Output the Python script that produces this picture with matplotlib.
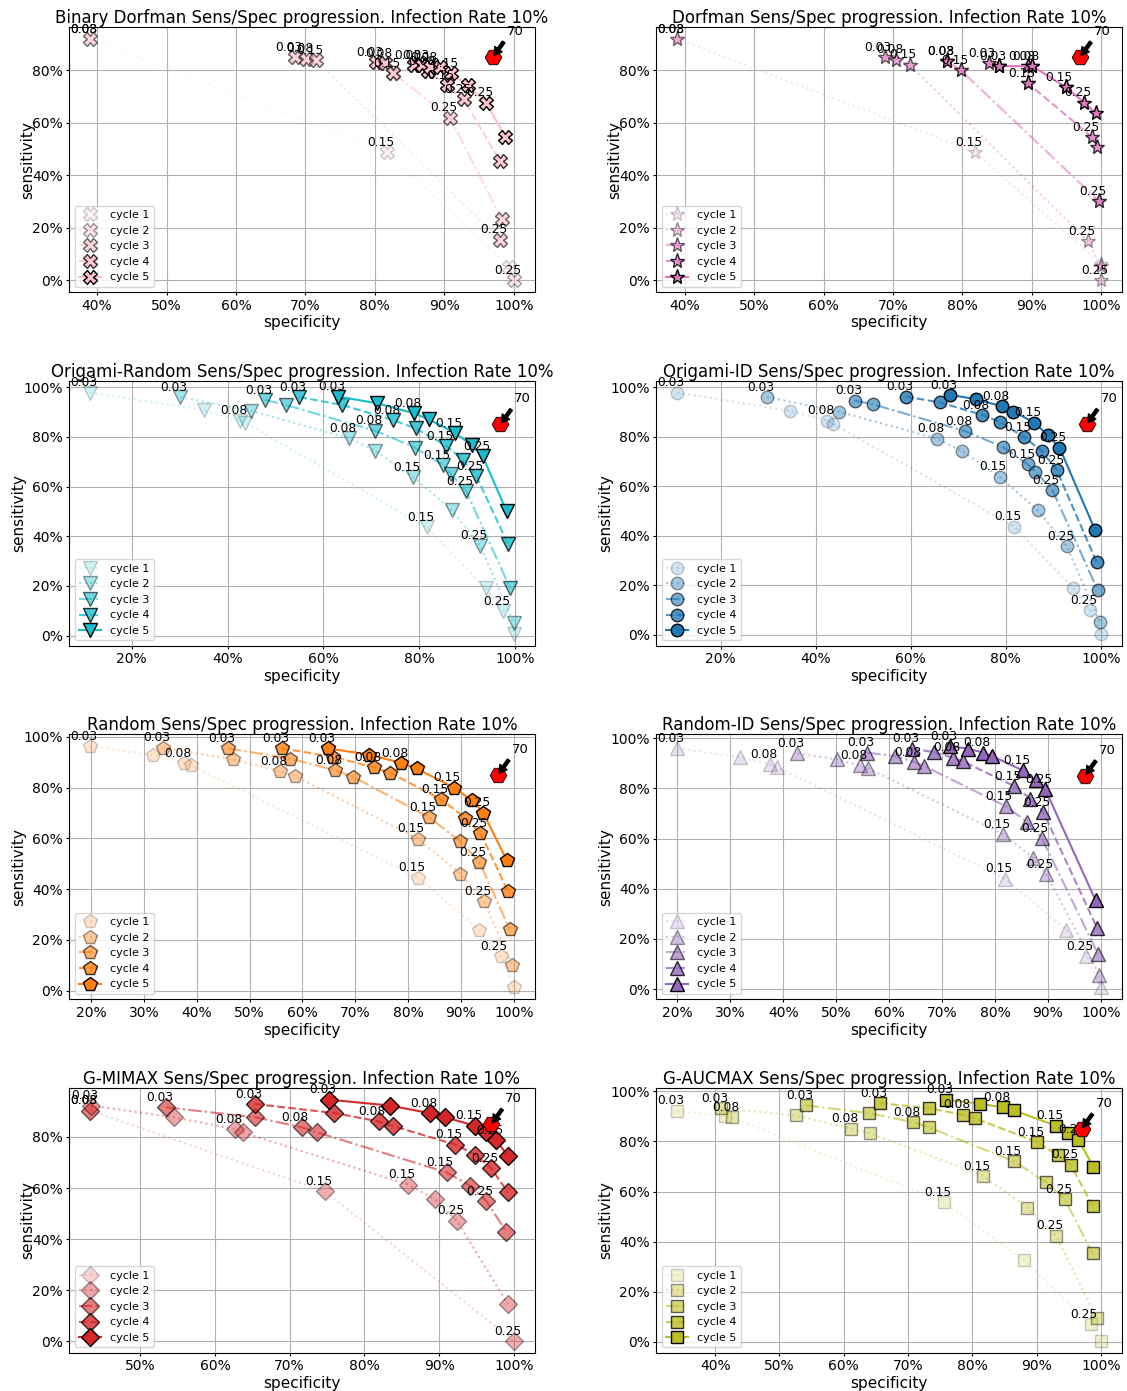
import matplotlib
matplotlib.use('Agg')
import matplotlib.pyplot as plt
from matplotlib.ticker import PercentFormatter

# ---------------- data (percent) ----------------
THRESHOLDS = ['0.03', '0.05', '0.08', '0.1', '0.15', '0.2', '0.25', '0.3']
LABELED = ['0.03', '0.08', '0.15', '0.25']
CYCLES = ['cycle 1', 'cycle 2', 'cycle 3', 'cycle 4', 'cycle 5']

# Binary Dorfman
BD_X = [[39.0, 39.0, 39.0, 39.0, 81.8, 99.3, 100.0, 100.0],
        [68.5, 68.5, 70.1, 70.1, 71.5, 71.5, 98.0, 98.0],
        [80.2, 80.2, 81.5, 81.5, 82.6, 82.6, 90.8, 98.3],
        [85.6, 85.6, 87.7, 87.7, 90.4, 90.4, 92.8, 98.0],
        [86.8, 86.8, 88.0, 89.4, 91.0, 93.4, 96.0, 98.8]]
BD_Y = [[91.8, 91.8, 91.8, 91.8, 48.9, 5.1, 0.0, 0.0],
        [85.0, 85.0, 84.4, 84.4, 83.8, 83.8, 15.5, 15.5],
        [83.1, 83.1, 82.7, 82.7, 78.9, 78.9, 61.9, 23.2],
        [81.9, 81.9, 79.6, 79.6, 74.2, 74.2, 68.9, 45.4],
        [81.9, 81.9, 81.2, 81.2, 78.7, 74.2, 67.6, 54.6]]

# Dorfman
DO_X = [[38.9, 38.9, 38.9, 38.9, 81.8, 100.0, 100.0, 100.0],
        [68.8, 68.8, 70.5, 70.5, 72.4, 72.4, 98.1, 100.0],
        [77.8, 77.8, 77.8, 77.8, 79.8, 79.8, 99.7, 99.7],
        [83.8, 85.3, 89.5, 89.5, 89.5, 89.5, 98.7, 99.5],
        [85.3, 85.3, 90.1, 90.1, 94.9, 94.9, 97.6, 99.3]]
DO_Y = [[91.8, 91.8, 91.8, 91.8, 48.9, 6.3, 0.0, 0.0],
        [85.0, 85.0, 84.0, 84.0, 82.1, 82.1, 15.0, 5.5],
        [83.4, 83.4, 83.4, 83.4, 79.9, 79.9, 30.2, 30.2],
        [82.5, 81.5, 81.5, 81.5, 74.9, 74.9, 54.6, 50.8],
        [81.5, 81.5, 81.5, 81.5, 73.6, 73.6, 67.6, 63.5]]

# Origami-Random
OR_X = [[11.3, 35.0, 42.6, 43.7, 81.6, 93.9, 97.6, 99.8],
        [30.1, 45.0, 65.4, 70.8, 78.8, 86.8, 92.8, 99.8],
        [47.8, 52.2, 70.8, 79.1, 85.0, 86.6, 89.9, 99.0],
        [55.0, 64.0, 74.5, 79.3, 85.7, 89.2, 92.0, 98.6],
        [63.1, 71.3, 78.9, 82.1, 87.5, 91.0, 93.3, 98.3]]
OR_Y = [[97.8, 90.8, 86.5, 85.7, 43.6, 19.0, 9.9, 0.7],
        [96.0, 90.4, 79.4, 74.4, 63.8, 50.6, 36.2, 5.1],
        [94.9, 92.8, 82.5, 75.7, 68.6, 65.2, 58.0, 19.3],
        [96.0, 92.8, 86.8, 83.4, 76.4, 70.6, 64.2, 36.8],
        [96.2, 93.5, 89.5, 87.0, 81.6, 76.7, 72.2, 50.1]]

# Origami-ID
OI_X = [[10.9, 34.6, 42.4, 43.6, 81.8, 94.1, 97.7, 100.0],
        [29.8, 44.9, 65.5, 70.8, 78.7, 86.7, 92.8, 99.8],
        [48.2, 52.0, 71.5, 79.5, 84.6, 86.2, 89.8, 99.3],
        [59.0, 66.2, 75.0, 78.7, 83.9, 87.6, 90.7, 99.1],
        [68.3, 73.8, 79.3, 81.6, 86.0, 88.8, 91.3, 98.8]]
OI_Y = [[97.8, 90.4, 86.5, 85.3, 43.6, 19.0, 9.9, 0.3],
        [96.0, 90.1, 79.2, 74.2, 63.8, 50.3, 35.8, 5.1],
        [94.6, 93.1, 82.2, 75.7, 68.8, 65.9, 58.4, 18.2],
        [96.2, 93.8, 88.8, 86.0, 79.8, 74.1, 66.5, 29.4],
        [96.9, 95.1, 92.2, 90.1, 85.7, 80.6, 75.6, 42.2]]

# Random
RA_X = [[19.8, 31.7, 37.6, 38.8, 81.9, 93.5, 97.5, 100.0],
        [33.6, 46.8, 55.7, 58.6, 81.8, 89.9, 94.3, 99.7],
        [45.9, 57.6, 66.2, 69.6, 83.9, 89.8, 93.5, 99.2],
        [56.1, 65.8, 73.5, 76.6, 86.3, 90.7, 93.7, 98.9],
        [64.8, 72.5, 78.7, 81.6, 88.6, 92.1, 94.2, 98.7]]
RA_Y = [[96.3, 92.8, 89.7, 88.8, 44.5, 23.9, 13.6, 1.3],
        [95.7, 91.1, 86.4, 84.5, 59.9, 46.1, 35.3, 10.3],
        [95.4, 91.4, 86.8, 84.2, 68.4, 58.9, 50.7, 24.3],
        [95.4, 92.1, 87.9, 85.8, 75.3, 68.2, 62.1, 39.2],
        [95.4, 93.0, 89.7, 87.5, 80.0, 75.0, 70.1, 51.3]]

# Random-ID
RI_X = [[20.0, 31.8, 37.6, 38.8, 81.9, 93.5, 97.2, 100.0],
        [42.7, 50.2, 54.5, 56.1, 81.5, 87.2, 89.7, 99.7],
        [55.9, 61.1, 64.7, 66.6, 82.0, 86.1, 88.8, 99.5],
        [64.4, 68.5, 72.1, 73.9, 83.6, 86.7, 89.1, 99.3],
        [71.5, 74.9, 77.8, 79.5, 85.3, 87.7, 89.5, 99.0]]
RI_Y = [[95.9, 92.4, 89.5, 88.5, 44.0, 23.6, 13.3, 0.7],
        [93.9, 91.5, 89.1, 87.9, 61.7, 52.4, 45.8, 5.7],
        [94.2, 92.8, 90.5, 88.9, 72.9, 66.6, 60.3, 13.9],
        [95.8, 94.4, 92.2, 90.8, 80.9, 75.9, 70.6, 24.3],
        [96.8, 95.8, 94.2, 92.8, 87.1, 83.3, 79.6, 35.4]]

# G-MIMAX
GM_X = [[43.3, 43.3, 43.3, 43.3, 74.7, 74.7, 100.0, 100.0],
        [43.4, 54.5, 62.7, 63.7, 85.9, 89.4, 92.4, 99.2],
        [53.5, 65.4, 71.6, 73.7, 91.0, 94.2, 96.3, 99.0],
        [65.4, 75.9, 81.9, 83.9, 92.2, 94.8, 97.0, 99.2],
        [75.3, 83.4, 88.8, 90.8, 94.8, 96.3, 97.6, 99.2]]
GM_Y = [[90.3, 90.3, 90.3, 90.3, 58.7, 58.7, 0.1, 0.1],
        [92.3, 87.7, 83.1, 81.8, 61.3, 55.7, 47.2, 14.5],
        [91.6, 87.7, 83.8, 81.8, 66.1, 60.9, 55.0, 42.9],
        [92.9, 89.4, 86.1, 84.2, 77.0, 73.1, 67.7, 58.3],
        [94.6, 92.3, 89.3, 87.7, 84.4, 81.8, 78.8, 72.7]]

# G-AUCMAX
GA_X = [[34.1, 41.6, 42.6, 42.6, 75.6, 88.0, 98.4, 100.0],
        [40.9, 52.6, 61.1, 64.1, 81.7, 88.5, 93.0, 99.4],
        [54.1, 64.0, 70.8, 73.3, 86.5, 91.5, 94.4, 98.7],
        [65.6, 73.3, 78.5, 80.4, 90.1, 93.4, 95.3, 98.7],
        [75.9, 81.2, 84.8, 86.5, 93.0, 94.9, 96.5, 98.8]]
GA_Y = [[92.3, 90.0, 89.6, 89.6, 55.7, 32.7, 6.9, 0.3],
        [93.3, 90.4, 85.1, 83.3, 66.3, 53.6, 42.4, 9.3],
        [94.4, 91.3, 87.7, 85.6, 72.0, 63.7, 56.9, 35.3],
        [95.3, 93.3, 90.7, 89.3, 79.7, 74.4, 70.7, 54.4],
        [96.7, 95.1, 93.6, 92.4, 86.3, 83.3, 80.7, 70.0]]

METHODS = ['Binary Dorfman', 'Dorfman', 'Origami-Random', 'Origami-ID',
           'Random', 'Random-ID', 'G-MIMAX', 'G-AUCMAX']
REF_SPEC = 97.0
REF_SENS = 85.0
REF_LABEL = '70'

# ---------------- style ----------------
ALL_X = [BD_X, DO_X, OR_X, OI_X, RA_X, RI_X, GM_X, GA_X]
ALL_Y = [BD_Y, DO_Y, OR_Y, OI_Y, RA_Y, RI_Y, GM_Y, GA_Y]
COLORS = ['pink', 'tab:pink', 'tab:cyan', 'tab:blue', 'tab:orange',
          'tab:purple', 'tab:red', 'tab:olive']
MARKERS = ['X', '*', 'v', 'o', 'p', '^', 'D', 's']
MSIZES = [10, 11, 10, 9, 10, 10, 9, 9]
LSTYLES = [':', ':', '-.', '--', '-']
ALPHAS = [0.2, 0.4, 0.6, 0.8, 1.0]

fig, axes = plt.subplots(4, 2, figsize=(11.27, 13.91), dpi=100)
fig.subplots_adjust(left=0.0612, right=0.9956, top=0.9806, bottom=0.0273,
                    wspace=0.26, hspace=0.332)

for k, ax in enumerate(axes.flat):
    xs, ys = ALL_X[k], ALL_Y[k]
    for i in range(5):
        ax.plot(xs[i], ys[i], linestyle=LSTYLES[i], marker=MARKERS[k],
                color=COLORS[k], alpha=ALPHAS[i], markersize=MSIZES[k],
                markeredgecolor='k', markeredgewidth=1.0, lw=1.5,
                label=CYCLES[i])
        for j, t in enumerate(THRESHOLDS):
            if t in LABELED:
                ax.annotate(t, (xs[i][j], ys[i][j]), textcoords='offset points',
                            xytext=(-4.5, 4.5), ha='center', va='baseline',
                            fontsize=8.8)
    ax.plot([REF_SPEC], [REF_SENS], marker='H', color='red', markersize=12,
            markeredgecolor='k', markeredgewidth=0.6, zorder=6)
    ax.annotate(REF_LABEL, xy=(REF_SPEC, REF_SENS), xytext=(10, 16),
                textcoords='offset points', fontsize=9.5,
                arrowprops=dict(facecolor='black', edgecolor='black',
                                width=2.2, headwidth=6.5, headlength=5.5,
                                shrink=0.08),
                zorder=7)
    ax.xaxis.set_major_formatter(PercentFormatter(xmax=100, decimals=0))
    ax.yaxis.set_major_formatter(PercentFormatter(xmax=100, decimals=0))
    ax.grid(True)
    ax.tick_params(labelsize=10, length=2.5, pad=2)
    ax.set_xlabel('specificity', fontsize=11, labelpad=2)
    ax.set_ylabel('sensitivity', fontsize=11, labelpad=-2)
    ax.set_title(METHODS[k] + ' Sens/Spec progression. Infection Rate 10%',
                 fontsize=12, pad=2)
    ax.legend(loc='lower left', fontsize=8)

fig.savefig('out.png', dpi=100)
